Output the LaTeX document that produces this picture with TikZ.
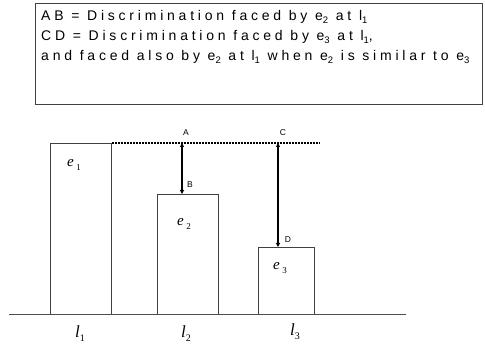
\documentclass[tikz,border=0pt]{standalone}
\usepackage{fontspec}
\setmainfont{Liberation Sans}
\newfontfamily\boxfont[LetterSpace=27]{Liberation Sans}
\newfontfamily\tms{Liberation Serif}
\usetikzlibrary{arrows.meta}
\newcommand{\sbs}[1]{\raisebox{-0.3ex}{\fontsize{9.5}{9.5}\selectfont #1}}
\begin{document}
\begin{tikzpicture}[x=1pt,y=-1pt,
  bar/.style={draw=black!75, line width=0.9pt, anchor=north west, inner sep=0pt},
  txt/.style={anchor=base west, inner sep=0pt, font=\boxfont\fontsize{14}{16}\selectfont},
  pt/.style={font=\fontsize{8.5}{10}\selectfont, inner sep=0pt},
  elab/.style={font=\tms\itshape\fontsize{15}{16}\selectfont, inner sep=0pt},
  llab/.style={font=\tms\itshape\fontsize{17}{19}\selectfont, inner sep=0pt},
  gap/.style={{Triangle[length=4pt,width=4pt]}-{Triangle[length=4pt,width=4pt]}, line width=1.6pt}]
\useasboundingbox (0,0) rectangle (485,347);
% legend box
\node[draw=black!75, line width=0.9pt, anchor=north west, inner sep=0pt, minimum width=447pt, minimum height=101pt] (legend) at (35,3) {};
\node[txt] (t1) at (41,21) {AB = Discrimination faced by e\sbs{2} at l\sbs{1}};
\node[txt] (t2) at (41,41) {CD = Discrimination faced by e\sbs{3} at l\sbs{1},};
\node[txt] (t3) at (41,61) {and faced also by e\sbs{2} at l\sbs{1} when e\sbs{2} is similar to e\sbs{3}};
% bars
\node[bar, minimum width=61pt, minimum height=171pt] (e1) at (50,143) {};
\node[bar, minimum width=61pt, minimum height=120pt] (e2) at (157,194) {};
\node[bar, minimum width=56pt, minimum height=67pt] (e3) at (258,247) {};
% ground
\coordinate (g0) at (9,314);
\coordinate (g1) at (406,314);
\draw[black!70, line width=0.9pt] (g0) -- (g1);
% dotted reference line
\coordinate (dend) at (320,143);
\draw[dash pattern=on 2pt off 1pt, line width=1.2pt] (e1.north east) -- (dend);
% arrows
\coordinate (A) at (182,143);
\coordinate (C) at (278,143);
\draw[gap] (A) -- (A |- e2.north);
\draw[gap] (C) -- (C |- e3.north);
% point labels
\node[pt] (la) at (186,133) {A};
\node[pt] (lc) at (283,133) {C};
\node[pt] (lb) at (190,185) {B};
\node[pt] (ld) at (288,240) {D};
% bar labels
\node[elab] (n1) at (74,165) {e\,\raisebox{-0.5ex}{\upshape\fontsize{9}{9}\selectfont 1}};
\node[elab] (n2) at (184,224) {e\,\raisebox{-0.5ex}{\upshape\fontsize{9}{9}\selectfont 2}};
\node[elab] (n3) at (280,268) {e\,\raisebox{-0.5ex}{\upshape\fontsize{9}{9}\selectfont 3}};
\node[llab] (m1) at (80,334) {l\raisebox{-0.5ex}{\upshape\fontsize{10}{10}\selectfont 1}};
\node[llab] (m2) at (186,334) {l\raisebox{-0.5ex}{\upshape\fontsize{10}{10}\selectfont 2}};
\node[llab] (m3) at (295,332) {l\raisebox{-0.5ex}{\upshape\fontsize{10}{10}\selectfont 3}};
\end{tikzpicture}
\end{document}
